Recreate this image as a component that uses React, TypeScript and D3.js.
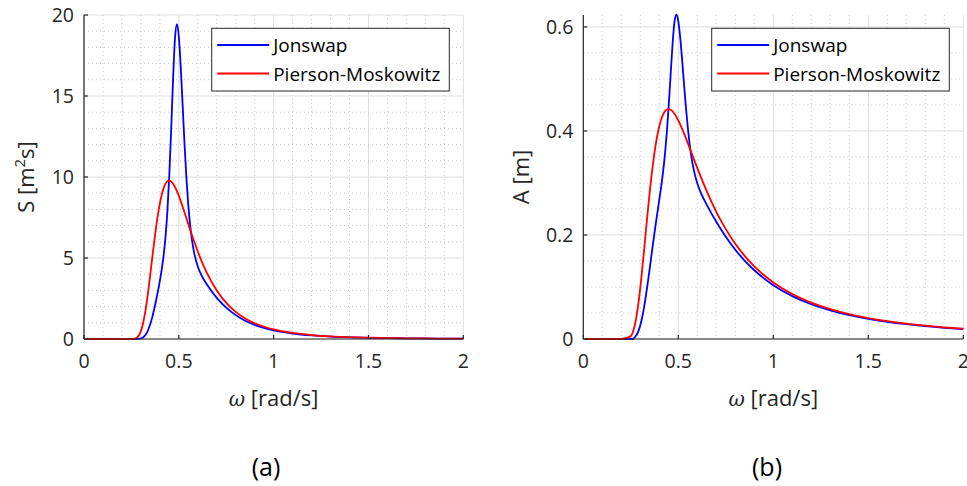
import React from 'react';
import * as d3 from 'd3';

// angular frequency samples [rad/s]
const omega = [0.01, 0.1, 0.2, 0.25, 0.26, 0.27, 0.28, 0.29, 0.3, 0.31, 0.32, 0.33, 0.34, 0.35, 0.36, 0.37, 0.38, 0.39, 0.4, 0.41, 0.42, 0.43, 0.44, 0.45, 0.46, 0.47, 0.48, 0.49, 0.5, 0.51, 0.52, 0.53, 0.54, 0.55, 0.56, 0.57, 0.58, 0.6, 0.62, 0.65, 0.7, 0.75, 0.8, 0.85, 0.9, 1.0, 1.1, 1.2, 1.3, 1.4, 1.5, 1.6, 1.7, 1.8, 1.9, 2.0];

// (a) spectral density S [m^2 s]
const jonswapS = [0, 0, 0, 0, 0, 0.0005, 0.003, 0.0115, 0.035, 0.0875, 0.188, 0.355, 0.602, 0.936, 1.351, 1.836, 2.374, 2.956, 3.586, 4.302, 5.178, 6.337, 7.955, 10.18, 13.03, 16.13, 18.61, 19.44, 18.66, 16.82, 14.45, 12.05, 9.949, 8.265, 6.989, 6.05, 5.366, 4.479, 3.926, 3.327, 2.541, 1.934, 1.474, 1.13, 0.874, 0.5355, 0.3401, 0.2233, 0.1511, 0.105, 0.0747, 0.0543, 0.0402, 0.0302, 0.0231, 0.0179];
const pmS = [0, 0, 0, 0.0015, 0.008, 0.031, 0.094, 0.233, 0.488, 0.895, 1.469, 2.206, 3.075, 4.03, 5.017, 5.986, 6.888, 7.691, 8.366, 8.912, 9.316, 9.588, 9.737, 9.776, 9.718, 9.581, 9.379, 9.124, 8.832, 8.509, 8.166, 7.812, 7.452, 7.092, 6.736, 6.386, 6.046, 5.402, 4.811, 4.03, 2.992, 2.23, 1.675, 1.27, 0.974, 0.5905, 0.3726, 0.2436, 0.1644, 0.114, 0.081, 0.0588, 0.0435, 0.0327, 0.025, 0.0194];

// (b) wave amplitude A [m]
const jonswapA = [0, 0, 0, 0, 0, 0.003, 0.0077, 0.0152, 0.0265, 0.0418, 0.0613, 0.0843, 0.1097, 0.1368, 0.1644, 0.1916, 0.2179, 0.2431, 0.2678, 0.2933, 0.3218, 0.356, 0.3989, 0.4512, 0.5105, 0.568, 0.6101, 0.6235, 0.6109, 0.58, 0.5376, 0.4909, 0.4461, 0.4066, 0.3739, 0.3479, 0.3276, 0.2993, 0.2802, 0.258, 0.2254, 0.1967, 0.1717, 0.1503, 0.1322, 0.1035, 0.0825, 0.0668, 0.055, 0.0458, 0.0387, 0.033, 0.0284, 0.0246, 0.0215, 0.0189];
const pmA = [0, 0, 0, 0.0055, 0.0126, 0.0249, 0.0434, 0.0683, 0.0988, 0.1338, 0.1714, 0.21, 0.248, 0.2839, 0.3168, 0.346, 0.3712, 0.3922, 0.409, 0.4222, 0.4316, 0.4379, 0.4413, 0.4422, 0.4409, 0.4377, 0.4331, 0.4272, 0.4203, 0.4125, 0.4041, 0.3953, 0.3861, 0.3766, 0.367, 0.3574, 0.3477, 0.3287, 0.3102, 0.2839, 0.2446, 0.2112, 0.183, 0.1594, 0.1396, 0.1087, 0.0863, 0.0698, 0.0573, 0.0477, 0.0402, 0.0343, 0.0295, 0.0256, 0.0224, 0.0197];

const xTicks = [0, 0.5, 1, 1.5, 2];
const xTickLabels = ['0', '0.5', '1', '1.5', '2'];
const sTicks = [0, 5, 10, 15, 20];
const sTickLabels = ['0', '5', '10', '15', '20'];
const aTicks = [0, 0.2, 0.4, 0.6];
const aTickLabels = ['0', '0.2', '0.4', '0.6'];
const seriesNames = ['Jonswap', 'Pierson-Moskowitz'];
const seriesColors = ['#0000ff', '#ff0000'];

const FONT = '"Open Sans", sans-serif';
const TXT = '#262626';

type PanelProps = {
  x0: number; x1: number; yMax: number;
  yTicks: number[]; yTickLabels: string[]; yMinorStep: number;
  jon: number[]; pm: number[];
  yLabel: React.ReactNode; yLabelX: number; tag: string; tagX: number;
};

function Panel(p: PanelProps) {
  const top = 15, bottom = 339;
  const x = d3.scaleLinear().domain([0, 2]).range([p.x0, p.x1]);
  const y = d3.scaleLinear().domain([0, p.yMax]).range([bottom, top]);
  const line = d3.line<number>().x((_, i) => x(omega[i])).y(d => y(d)).curve(d3.curveMonotoneX);
  const xMinor = d3.range(1, 20).map(i => i / 10).filter((_, i) => (i + 1) % 5 !== 0);
  const nMinorY = Math.floor(p.yMax / p.yMinorStep + 1e-6);
  const yMinor = d3.range(1, nMinorY + 1).map(i => +(i * p.yMinorStep).toFixed(4))
    .filter(v => !p.yTicks.some(t => Math.abs(t - v) < 1e-6));
  const cx = (p.x0 + p.x1) / 2;
  const lgW = 237.6, lgH = 62.7;
  const lgX = p.x1 - 14 - lgW, lgY = 28.3;
  const rows = [45, 73.5];
  return (
    <g>
      {/* minor grid */}
      {xMinor.map(v => (
        <line key={'xm' + v} x1={x(v)} x2={x(v)} y1={top} y2={bottom} stroke="#c8c8c8" strokeWidth={1} strokeDasharray="1,3" />
      ))}
      {yMinor.map(v => (
        <line key={'ym' + v} x1={p.x0} x2={p.x1} y1={y(v)} y2={y(v)} stroke="#c8c8c8" strokeWidth={1} strokeDasharray="1,3" />
      ))}
      {/* major grid */}
      {xTicks.map(v => (
        <line key={'xg' + v} x1={x(v)} x2={x(v)} y1={top} y2={bottom} stroke="#dedede" strokeWidth={1} />
      ))}
      {p.yTicks.map(v => (
        <line key={'yg' + v} x1={p.x0} x2={p.x1} y1={y(v)} y2={y(v)} stroke="#dedede" strokeWidth={1} />
      ))}
      {/* data */}
      <path d={line(p.jon) || ''} fill="none" stroke={seriesColors[0]} strokeWidth={1.8} />
      <path d={line(p.pm) || ''} fill="none" stroke={seriesColors[1]} strokeWidth={1.8} />
      {/* axes */}
      <line x1={p.x0} x2={p.x1} y1={bottom} y2={bottom} stroke={TXT} strokeWidth={1.2} />
      <line x1={p.x0} x2={p.x0} y1={top} y2={bottom} stroke={TXT} strokeWidth={1.2} />
      {xTicks.map(v => (
        <line key={'xt' + v} x1={x(v)} x2={x(v)} y1={bottom} y2={bottom - 4} stroke={TXT} strokeWidth={1.2} />
      ))}
      {p.yTicks.map(v => (
        <line key={'yt' + v} x1={p.x0} x2={p.x0 + 4} y1={y(v)} y2={y(v)} stroke={TXT} strokeWidth={1.2} />
      ))}
      {xTicks.map((v, i) => (
        <text key={'xl' + v} x={x(v)} y={368} textAnchor="middle" fontSize={19.5} fill={TXT}>{xTickLabels[i]}</text>
      ))}
      {p.yTicks.map((v, i) => (
        <text key={'yl' + v} x={p.x0 - 10} y={y(v) + 7} textAnchor="end" fontSize={19.5} fill={TXT}>{p.yTickLabels[i]}</text>
      ))}
      {/* labels */}
      <text x={cx} y={406} textAnchor="middle" fontSize={22} fill={TXT}>
        <tspan fontFamily='"DejaVu Serif", serif' fontStyle="italic" fontSize={20}>ω</tspan>
        <tspan> [rad/s]</tspan>
      </text>
      <text transform={`translate(${p.yLabelX},177) rotate(-90)`} textAnchor="middle" fontSize={22} fill={TXT}>{p.yLabel}</text>
      <text x={p.tagX} y={476} textAnchor="middle" fontSize={25} fill="#000">{p.tag}</text>
      {/* legend */}
      <rect x={lgX} y={lgY} width={lgW} height={lgH} fill="#fff" stroke="#262626" strokeWidth={1} />
      {seriesNames.map((n, i) => (
        <g key={n}>
          <line x1={lgX + 5.5} x2={lgX + 57.5} y1={rows[i]} y2={rows[i]} stroke={seriesColors[i]} strokeWidth={1.8} />
          <text x={lgX + 61.5} y={rows[i] + 7} fontSize={19} fill="#000">{n}</text>
        </g>
      ))}
    </g>
  );
}

export default function App() {
  return (
    <svg width={967} height={486} style={{ position: 'absolute', left: 0, top: 0, background: '#fff' }} fontFamily={FONT}>
      <rect x={0} y={0} width={967} height={486} fill="#fff" />
      <Panel x0={84} x1={463.3} yMax={20} yTicks={sTicks} yTickLabels={sTickLabels} yMinorStep={1}
        jon={jonswapS} pm={pmS}
        yLabel={<><tspan>S [m</tspan><tspan dy={-9} fontSize={15}>2</tspan><tspan dy={9}>s]</tspan></>}
        yLabelX={33.5} tag="(a)" tagX={266} />
      <Panel x0={583.3} x1={963.3} yMax={0.623} yTicks={aTicks} yTickLabels={aTickLabels} yMinorStep={0.05}
        jon={jonswapA} pm={pmA}
        yLabel={<tspan>A [m]</tspan>}
        yLabelX={528.5} tag="(b)" tagX={767} />
    </svg>
  );
}
